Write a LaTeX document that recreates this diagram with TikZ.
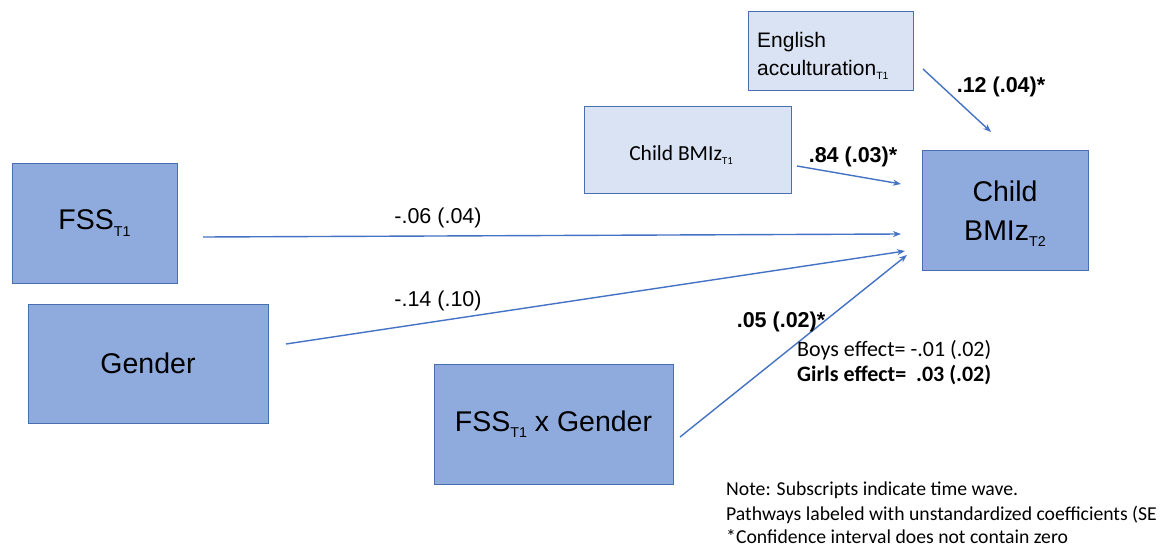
\documentclass[tikz,border=0pt]{standalone}
\usepackage{fontspec}
\usepackage{graphicx}
\setmainfont{Liberation Sans}
\newfontfamily\calibri{Carlito}
\usetikzlibrary{arrows.meta}
\definecolor{boxfill}{HTML}{8FAADC}
\definecolor{lightfill}{HTML}{DAE3F3}
\definecolor{boxedge}{HTML}{4A6FB0}
\definecolor{arrowblue}{HTML}{4472C4}
\newcommand\lowsub[1]{\raisebox{-0.22em}{\scalebox{0.5}{#1}}}
\tikzset{
  darkbox/.style={draw=boxedge, fill=boxfill, line width=0.9pt, inner sep=0pt, align=center, font=\fontsize{28.5}{39}\selectfont},
  lightbox/.style={draw=boxedge, fill=lightfill, line width=0.9pt, inner sep=0pt},
  path/.style={draw=arrowblue, line width=1.4pt, -{Stealth[length=8pt,width=6pt]}},
  coef/.style={font=\fontsize{21.5}{24}\selectfont, inner sep=0pt},
  bcoef/.style={font=\fontsize{21.5}{24}\selectfont\bfseries, inner sep=0pt},
  note/.style={font=\calibri\fontsize{22}{24}\selectfont, inner sep=0pt, anchor=west},
  smallnote/.style={font=\calibri\fontsize{19.7}{22}\selectfont, inner sep=0pt, anchor=west}
}
\begin{document}
\begin{tikzpicture}[x=1pt,y=-1pt]
\useasboundingbox[fill=white] (0,0) rectangle (1166,548);
% boxes
\node[darkbox, minimum width=165pt, minimum height=120pt] (fss) at (94.5,223) {FSS\lowsub{T1}};
\node[darkbox, minimum width=240pt, minimum height=119pt] (gender) at (148,363.5) {Gender};
\node[darkbox, minimum width=239pt, minimum height=120pt] (inter) at (553.5,424) {FSS\lowsub{T1} x Gender};
\node[darkbox, minimum width=166pt, minimum height=120pt] (bmi2) at (1005,210) {};
\node[align=center, font=\fontsize{28.5}{39}\selectfont, inner sep=0pt] (bmi2t) at (1005,214) {Child\\BMIz\lowsub{T2}};
\node[lightbox, minimum width=207pt, minimum height=87pt] (bmi1) at (687.5,149.5) {};
\node[font=\calibri\fontsize{21.5}{24}\selectfont, inner sep=0pt] (bmi1t) at (681,155) {Child BMIz\lowsub{T1}};
\node[lightbox, minimum width=165pt, minimum height=79pt] (eng) at (830.5,50.5) {};
\node[align=left, font=\fontsize{21}{28}\selectfont, inner sep=0pt, anchor=west] (engt) at (757,56) {English\\acculturation\lowsub{T1}};
% connector end points
\coordinate (s1) at (203,237);  \coordinate (e1) at (901,234);
\coordinate (s2) at (286,344);  \coordinate (e2) at (905,251);
\coordinate (s3) at (680,437);  \coordinate (e3) at (907,255);
\coordinate (s4) at (797,166);  \coordinate (e4) at (901,184);
\coordinate (s5) at (923,69);   \coordinate (e5) at (991,132);
\draw[path] (s1) -- (e1);
\draw[path] (s2) -- (e2);
\draw[path] (s3) -- (e3);
\draw[path] (s4) -- (e4);
\draw[path] (s5) -- (e5);
% labels
\node[coef] (l1) at (438,218) {-.06 (.04)};
\node[coef] (l2) at (438,301) {-.14 (.10)};
\node[bcoef] (l4) at (853,157) {.84 (.03)*};
\node[bcoef] (l5) at (1001,87) {.12 (.04)*};
\node[bcoef] (l3) at (781,322) {.05 (.02)*};
\node[note] (boys) at (797,350) {Boys effect= -.01 (.02)};
\node[note, font=\calibri\bfseries\fontsize{22}{24}\selectfont] (girls) at (797,375) {Girls effect=\ \ .03 (.02)};
\node[smallnote] (n1) at (726,490) {Note: Subscripts indicate time wave.};
\node[smallnote] (n2) at (726,515) {Pathways labeled with unstandardized coefficients (SE};
\node[smallnote] (n3) at (726,537) {*Confidence interval does not contain zero};
\end{tikzpicture}
\end{document}
